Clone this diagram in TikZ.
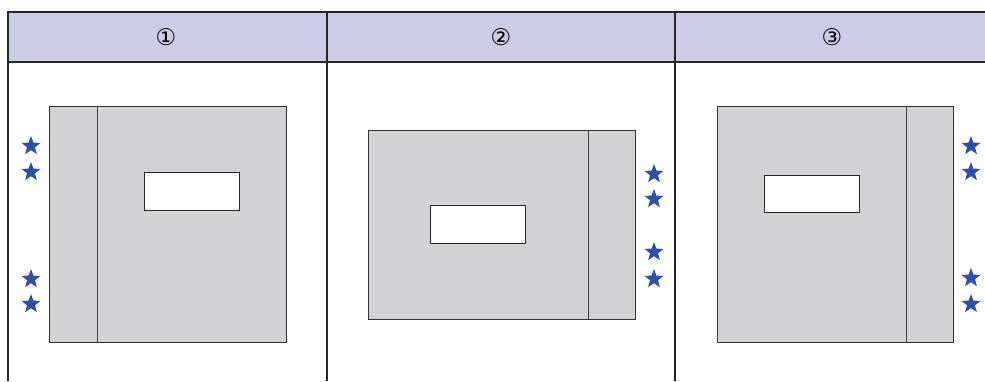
\documentclass[tikz,border=0pt]{standalone}
\usepackage{fontspec}
\newfontfamily\symfont{DejaVu Sans}
\usepackage{xcolor}
\usetikzlibrary{shapes.geometric}

\definecolor{headfill}{HTML}{CBCDE6}
\definecolor{coverfill}{HTML}{D1D3D5}
\definecolor{starblue}{HTML}{2F4EA8}

\begin{document}
\begin{tikzpicture}[
                x=1pt, y=-1pt,
                frame/.style={draw=black!85, line width=1.3pt},
                cover/.style={draw=black!80, line width=1pt, fill=coverfill},
                spine/.style={draw=black!75, line width=1pt},
                window/.style={draw=black!85, line width=1pt, fill=white},
                headlabel/.style={font=\symfont\fontsize{23}{23}\selectfont, inner sep=0pt},
                marker/.style={star, star points=5, star point ratio=2.4, fill=starblue, inner sep=0pt, minimum size=20pt}
            ]
            \useasboundingbox (0,0) rectangle (985,381);
            % header row
            \fill[headfill] (8,12) rectangle (985,62);
            \draw[frame] (985,12) -- (8,12) -- (8,381);
            \draw[frame] (8,62) -- (985,62);
            \draw[frame] (327,12) -- (327,381);
            \draw[frame] (675,12) -- (675,381);
            \node[headlabel] (num1) at (166,37) {①};
            \node[headlabel] (num2) at (501,37) {②};
            \node[headlabel] (num3) at (832,37) {③};
            % panel 1: spine on the left
            \draw[cover] (49,106) rectangle (286,342);
            \draw[spine] (97,106) -- (97,342);
            \draw[window] (144,172) rectangle (239,210);
            \node[marker] (a1) at (31,146) {};
            \node[marker] (a2) at (31,172) {};
            \node[marker] (a3) at (31,279) {};
            \node[marker] (a4) at (31,304) {};
            % panel 2: spine on the right, landscape
            \draw[cover] (368,130) rectangle (635,319);
            \draw[spine] (588,130) -- (588,319);
            \draw[window] (430,205) rectangle (525,243);
            \node[marker] (b1) at (654,174) {};
            \node[marker] (b2) at (654,199) {};
            \node[marker] (b3) at (654,252) {};
            \node[marker] (b4) at (654,279) {};
            % panel 3: spine on the right
            \draw[cover] (717,106) rectangle (953,342);
            \draw[spine] (906,106) -- (906,342);
            \draw[window] (764,175) rectangle (859,212);
            \node[marker] (c1) at (971,146) {};
            \node[marker] (c2) at (971,172) {};
            \node[marker] (c3) at (971,278) {};
            \node[marker] (c4) at (971,304) {};
        \end{tikzpicture}
\end{document}
